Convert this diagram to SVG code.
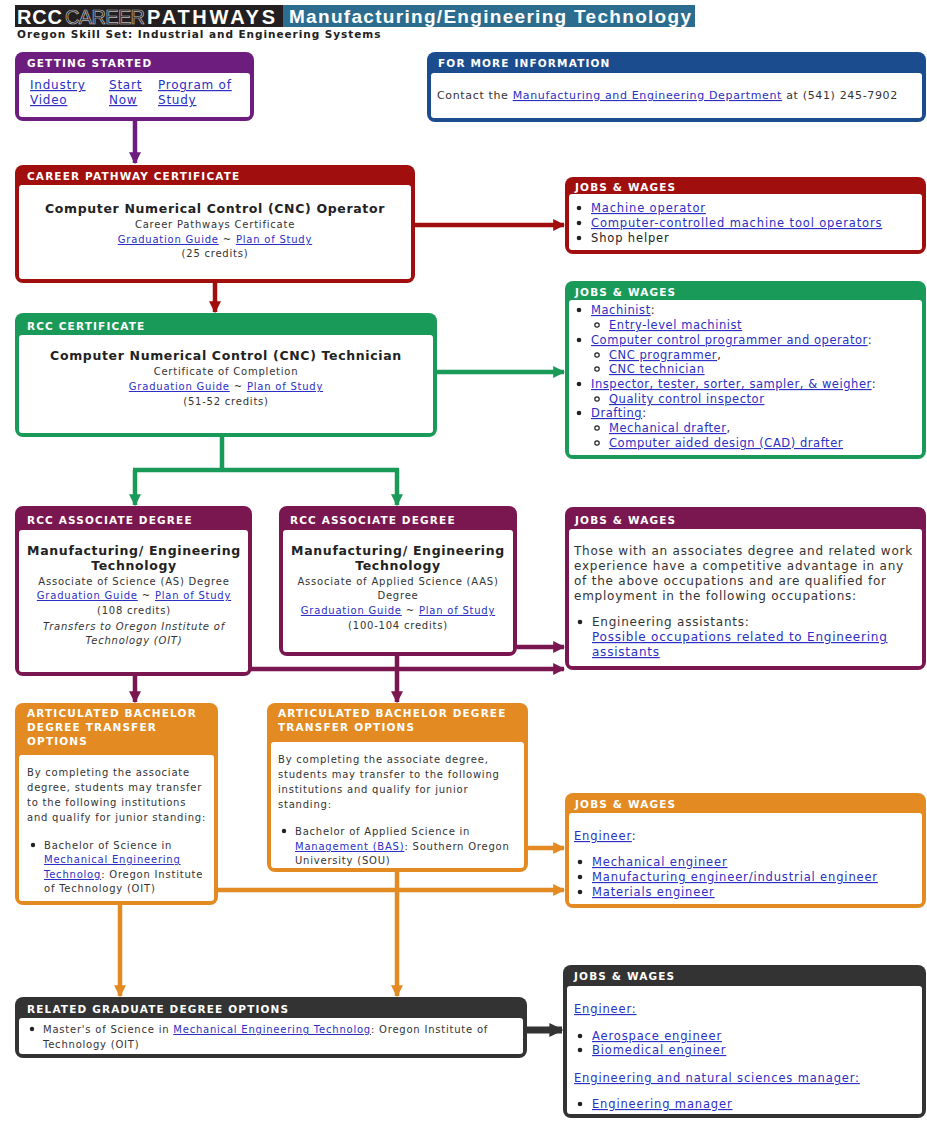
<svg xmlns="http://www.w3.org/2000/svg" width="927" height="1123" viewBox="0 0 927 1123">
<style>
text{font-family:"DejaVu Sans","Noto Sans",sans-serif;fill:#333}
.hd{font-size:10.5px;font-weight:bold;fill:#fff;letter-spacing:1.15px}
.t{font-size:10px;letter-spacing:0.78px}
.m{font-size:11.5px;letter-spacing:0.85px}
.m2{font-size:11.5px;letter-spacing:0.55px}
.p{font-size:12px;letter-spacing:0.77px}
.ti{font-size:12.5px;font-weight:bold;fill:#222;letter-spacing:0.65px}
.c{text-anchor:middle}
.lk{fill:#2b2fc4;text-decoration:underline}
.it{font-style:italic}
.ln{fill:none;stroke-width:4.5}
</style>
<defs>
<marker id="aP" viewBox="0 0 10 10" refX="9" refY="5" markerUnits="userSpaceOnUse" markerWidth="12" markerHeight="12" orient="auto"><path d="M0,0L10,5L0,10z" fill="#6c1d7e"/></marker>
<marker id="aR" viewBox="0 0 10 10" refX="9" refY="5" markerUnits="userSpaceOnUse" markerWidth="12" markerHeight="12" orient="auto"><path d="M0,0L10,5L0,10z" fill="#a10e0e"/></marker>
<marker id="aG" viewBox="0 0 10 10" refX="9" refY="5" markerUnits="userSpaceOnUse" markerWidth="12" markerHeight="12" orient="auto"><path d="M0,0L10,5L0,10z" fill="#1a9a58"/></marker>
<marker id="aM" viewBox="0 0 10 10" refX="9" refY="5" markerUnits="userSpaceOnUse" markerWidth="12" markerHeight="12" orient="auto"><path d="M0,0L10,5L0,10z" fill="#7b1750"/></marker>
<marker id="aO" viewBox="0 0 10 10" refX="9" refY="5" markerUnits="userSpaceOnUse" markerWidth="12" markerHeight="12" orient="auto"><path d="M0,0L10,5L0,10z" fill="#e38b22"/></marker>
<marker id="aD" viewBox="0 0 10 10" refX="9" refY="5" markerUnits="userSpaceOnUse" markerWidth="14" markerHeight="18" orient="auto"><path d="M0,0L10,5L0,10z" fill="#333"/></marker>
</defs>
<rect x="0" y="0" width="927" height="1123" fill="#fff"/>

<g id="title">
<rect x="15" y="5" width="268" height="22" fill="#231f20"/>
<rect x="283" y="5" width="412" height="22" fill="#2c6d8f"/>
<text x="17" y="24" style="font-family:'Liberation Sans',sans-serif;font-size:20px;font-weight:bold;fill:#fff" textLength="45">RCC</text>
<text x="65" y="24" style="font-family:'Liberation Sans',sans-serif;font-size:20px;fill:#231f20;stroke:#bbb;stroke-width:0.7" textLength="80">CAREER</text>
<text x="147" y="24" style="font-family:'Liberation Sans',sans-serif;font-size:20px;font-weight:bold;fill:#fff" textLength="128">PATHWAYS</text>
<text x="289" y="23" style="font-family:'Liberation Sans',sans-serif;font-size:19px;font-weight:bold;fill:#fff" textLength="402">Manufacturing/Engineering Technology</text>
<text x="17" y="38" style="font-size:10.5px;font-weight:bold;fill:#222;letter-spacing:0.95px">Oregon Skill Set: Industrial and Engineering Systems</text>
</g>

<g id="connectors">
<path class="ln" stroke="#6c1d7e" d="M135,121V163" marker-end="url(#aP)"/>
<path class="ln" stroke="#a10e0e" d="M415,225H564" marker-end="url(#aR)"/>
<path class="ln" stroke="#a10e0e" d="M215,283V312" marker-end="url(#aR)"/>
<path class="ln" stroke="#1a9a58" d="M437,372H564" marker-end="url(#aG)"/>
<path class="ln" stroke="#1a9a58" d="M222,437V470M133,470H399"/>
<path class="ln" stroke="#1a9a58" d="M135,470V505" marker-end="url(#aG)"/>
<path class="ln" stroke="#1a9a58" d="M397,470V505" marker-end="url(#aG)"/>
<path class="ln" stroke="#7b1750" d="M517,647H564" marker-end="url(#aM)"/>
<path class="ln" stroke="#7b1750" d="M250,669H564" marker-end="url(#aM)"/>
<path class="ln" stroke="#7b1750" d="M135,676V702" marker-end="url(#aM)"/>
<path class="ln" stroke="#7b1750" d="M397,656V702" marker-end="url(#aM)"/>
<path class="ln" stroke="#e38b22" d="M528,848H564" marker-end="url(#aO)"/>
<path class="ln" stroke="#e38b22" d="M216,890H564" marker-end="url(#aO)"/>
<path class="ln" stroke="#e38b22" d="M120,905V996" marker-end="url(#aO)"/>
<path class="ln" stroke="#e38b22" d="M397,872V996" marker-end="url(#aO)"/>
<path fill="none" stroke="#333" stroke-width="7" d="M527,1030H562" marker-end="url(#aD)"/>
</g>

<g id="getting-started">
<rect x="15" y="52" width="239" height="69" rx="8" fill="#6c1d7e"/>
<rect x="19" y="73" width="231" height="44" rx="3" fill="#fff"/>
<text class="hd" x="27" y="67">GETTING STARTED</text>
<text class="p lk" x="30" y="89">Industry</text><text class="p lk" x="30" y="104">Video</text>
<text class="p lk" x="109" y="89">Start</text><text class="p lk" x="109" y="104">Now</text>
<text class="p lk" x="158" y="89">Program of</text><text class="p lk" x="158" y="104">Study</text>
</g>

<g id="more-info">
<rect x="427" y="52" width="499" height="70" rx="8" fill="#1a4c8e"/>
<rect x="431" y="73" width="491" height="45" rx="3" fill="#fff"/>
<text class="hd" x="438" y="67">FOR MORE INFORMATION</text>
<text x="437" y="99" style="font-size:11px;letter-spacing:0.65px">Contact the <tspan class="lk">Manufacturing and Engineering Department</tspan> at (541) 245-7902</text>
</g>

<g id="career-pathway-cert">
<rect x="15" y="165" width="400" height="118" rx="8" fill="#a10e0e"/>
<rect x="19" y="185" width="392" height="94" rx="3" fill="#fff"/>
<text class="hd" x="27" y="180">CAREER PATHWAY CERTIFICATE</text>
<text class="ti c" x="215" y="213">Computer Numerical Control (CNC) Operator</text>
<text class="t c" x="215" y="228">Career Pathways Certificate</text>
<text class="t c" x="215" y="243"><tspan class="lk">Graduation Guide</tspan> ~ <tspan class="lk">Plan of Study</tspan></text>
<text class="t c" x="215" y="257">(25 credits)</text>
</g>

<g id="jobs1">
<rect x="565" y="177" width="361" height="77" rx="8" fill="#a10e0e"/>
<rect x="569" y="194" width="353" height="56" rx="3" fill="#fff"/>
<text class="hd" x="575" y="191">JOBS &amp; WAGES</text>
<circle cx="579" cy="208" r="2.3" fill="#222"/><text class="m lk" x="591" y="212">Machine operator</text>
<circle cx="579" cy="223" r="2.3" fill="#222"/><text class="m lk" x="591" y="227">Computer-controlled machine tool operators</text>
<circle cx="579" cy="238" r="2.3" fill="#222"/><text class="m" x="591" y="242" style="fill:#222">Shop helper</text>
</g>

<g id="rcc-cert">
<rect x="15" y="313" width="422" height="124" rx="8" fill="#1a9a58"/>
<rect x="19" y="335" width="414" height="98" rx="3" fill="#fff"/>
<text class="hd" x="27" y="330">RCC CERTIFICATE</text>
<text class="ti c" x="226" y="360">Computer Numerical Control (CNC) Technician</text>
<text class="t c" x="226" y="375">Certificate of Completion</text>
<text class="t c" x="226" y="390"><tspan class="lk">Graduation Guide</tspan> ~ <tspan class="lk">Plan of Study</tspan></text>
<text class="t c" x="226" y="405">(51-52 credits)</text>
</g>

<g id="jobs2">
<rect x="565" y="281" width="361" height="178" rx="8" fill="#1a9a58"/>
<rect x="569" y="300" width="353" height="155" rx="3" fill="#fff"/>
<text class="hd" x="575" y="296">JOBS &amp; WAGES</text>
<circle cx="579" cy="310" r="2.3" fill="#222"/><text class="m2" x="591" y="314"><tspan class="lk">Machinist</tspan>:</text>
<circle cx="597" cy="325" r="2.2" fill="none" stroke="#222" stroke-width="1.2"/><text class="m2 lk" x="609" y="329">Entry-level machinist</text>
<circle cx="579" cy="340" r="2.3" fill="#222"/><text class="m2" x="591" y="344"><tspan class="lk">Computer control programmer and operator</tspan>:</text>
<circle cx="597" cy="355" r="2.2" fill="none" stroke="#222" stroke-width="1.2"/><text class="m2" x="609" y="359"><tspan class="lk">CNC programmer</tspan>,</text>
<circle cx="597" cy="369" r="2.2" fill="none" stroke="#222" stroke-width="1.2"/><text class="m2 lk" x="609" y="373">CNC technician</text>
<circle cx="579" cy="384" r="2.3" fill="#222"/><text class="m2" x="591" y="388"><tspan class="lk">Inspector, tester, sorter, sampler, &amp; weigher</tspan>:</text>
<circle cx="597" cy="399" r="2.2" fill="none" stroke="#222" stroke-width="1.2"/><text class="m2 lk" x="609" y="403">Quality control inspector</text>
<circle cx="579" cy="413" r="2.3" fill="#222"/><text class="m2" x="591" y="417"><tspan class="lk">Drafting</tspan>:</text>
<circle cx="597" cy="428" r="2.2" fill="none" stroke="#222" stroke-width="1.2"/><text class="m2" x="609" y="432"><tspan class="lk">Mechanical drafter</tspan>,</text>
<circle cx="597" cy="443" r="2.2" fill="none" stroke="#222" stroke-width="1.2"/><text class="m2 lk" x="609" y="447">Computer aided design (CAD) drafter</text>
</g>

<g id="assoc-as">
<rect x="15" y="506" width="237" height="170" rx="8" fill="#7b1750"/>
<rect x="19" y="530" width="229" height="142" rx="3" fill="#fff"/>
<text class="hd" x="27" y="524">RCC ASSOCIATE DEGREE</text>
<text class="ti c" x="134" y="555">Manufacturing/ Engineering</text>
<text class="ti c" x="134" y="570">Technology</text>
<text class="t c" x="134" y="585">Associate of Science (AS) Degree</text>
<text class="t c" x="134" y="599"><tspan class="lk">Graduation Guide</tspan> ~ <tspan class="lk">Plan of Study</tspan></text>
<text class="t c" x="134" y="614">(108 credits)</text>
<text class="t c it" x="134" y="630">Transfers to Oregon Institute of</text>
<text class="t c it" x="134" y="644">Technology (OIT)</text>
</g>

<g id="assoc-aas">
<rect x="279" y="506" width="238" height="150" rx="8" fill="#7b1750"/>
<rect x="283" y="530" width="230" height="122" rx="3" fill="#fff"/>
<text class="hd" x="290" y="524">RCC ASSOCIATE DEGREE</text>
<text class="ti c" x="398" y="555">Manufacturing/ Engineering</text>
<text class="ti c" x="398" y="570">Technology</text>
<text class="t c" x="398" y="585">Associate of Applied Science (AAS)</text>
<text class="t c" x="398" y="599">Degree</text>
<text class="t c" x="398" y="614"><tspan class="lk">Graduation Guide</tspan> ~ <tspan class="lk">Plan of Study</tspan></text>
<text class="t c" x="398" y="629">(100-104 credits)</text>
</g>

<g id="jobs3">
<rect x="565" y="507" width="361" height="163" rx="8" fill="#7b1750"/>
<rect x="569" y="529" width="353" height="137" rx="3" fill="#fff"/>
<text class="hd" x="575" y="524">JOBS &amp; WAGES</text>
<text class="p" x="574" y="555">Those with an associates degree and related work</text>
<text class="p" x="574" y="570">experience have a competitive advantage in any</text>
<text class="p" x="574" y="585">of the above occupations and are qualified for</text>
<text class="p" x="574" y="600">employment in the following occupations:</text>
<circle cx="580" cy="622" r="2.3" fill="#222"/><text class="p" x="592" y="626">Engineering assistants:</text>
<text class="p lk" x="592" y="641">Possible occupations related to Engineering</text>
<text class="p lk" x="592" y="656">assistants</text>
</g>

<g id="articulated-oit">
<rect x="15" y="703" width="203" height="202" rx="8" fill="#e38b22"/>
<rect x="19" y="755" width="195" height="146" rx="3" fill="#fff"/>
<text class="hd" x="27" y="717">ARTICULATED BACHELOR</text>
<text class="hd" x="27" y="731">DEGREE TRANSFER</text>
<text class="hd" x="27" y="745">OPTIONS</text>
<text class="t" x="27" y="776">By completing the associate</text>
<text class="t" x="27" y="791">degree, students may transfer</text>
<text class="t" x="27" y="806">to the following institutions</text>
<text class="t" x="27" y="821">and qualify for junior standing:</text>
<circle cx="33" cy="845" r="2.2" fill="#222"/><text class="t" x="44" y="849">Bachelor of Science in</text>
<text class="t lk" x="44" y="863">Mechanical Engineering</text>
<text class="t" x="44" y="878"><tspan class="lk">Technolog</tspan>: Oregon Institute</text>
<text class="t" x="44" y="892">of Technology (OIT)</text>
</g>

<g id="articulated-sou">
<rect x="267" y="703" width="261" height="169" rx="8" fill="#e38b22"/>
<rect x="271" y="742" width="253" height="126" rx="3" fill="#fff"/>
<text class="hd" x="278" y="717">ARTICULATED BACHELOR DEGREE</text>
<text class="hd" x="278" y="731">TRANSFER OPTIONS</text>
<text class="t" x="278" y="763">By completing the associate degree,</text>
<text class="t" x="278" y="778">students may transfer to the following</text>
<text class="t" x="278" y="793">institutions and qualify for junior</text>
<text class="t" x="278" y="808">standing:</text>
<circle cx="284" cy="831" r="2.2" fill="#222"/><text class="t" x="295" y="835">Bachelor of Applied Science in</text>
<text class="t" x="295" y="850"><tspan class="lk">Management (BAS)</tspan>: Southern Oregon</text>
<text class="t" x="295" y="864">University (SOU)</text>
</g>

<g id="jobs4">
<rect x="565" y="793" width="361" height="115" rx="8" fill="#e38b22"/>
<rect x="569" y="813" width="353" height="91" rx="3" fill="#fff"/>
<text class="hd" x="575" y="808">JOBS &amp; WAGES</text>
<text class="m" x="574" y="840"><tspan class="lk">Engineer</tspan>:</text>
<circle cx="580" cy="862" r="2.3" fill="#222"/><text class="m lk" x="592" y="866">Mechanical engineer</text>
<circle cx="580" cy="877" r="2.3" fill="#222"/><text class="m lk" x="592" y="881">Manufacturing engineer/industrial engineer</text>
<circle cx="580" cy="892" r="2.3" fill="#222"/><text class="m lk" x="592" y="896">Materials engineer</text>
</g>

<g id="graduate">
<rect x="15" y="997" width="512" height="61" rx="8" fill="#333"/>
<rect x="19" y="1018" width="504" height="36" rx="3" fill="#fff"/>
<text class="hd" x="27" y="1013">RELATED GRADUATE DEGREE OPTIONS</text>
<circle cx="32" cy="1029" r="2.2" fill="#222"/><text class="t" x="43" y="1033">Master's of Science in <tspan class="lk">Mechanical Engineering Technolog</tspan>: Oregon Institute of</text>
<text class="t" x="43" y="1048">Technology (OIT)</text>
</g>

<g id="jobs5">
<rect x="563" y="965" width="363" height="153" rx="8" fill="#333"/>
<rect x="567" y="986" width="355" height="128" rx="3" fill="#fff"/>
<text class="hd" x="574" y="980">JOBS &amp; WAGES</text>
<text class="m lk" x="574" y="1013">Engineer:</text>
<circle cx="580" cy="1036" r="2.3" fill="#222"/><text class="m lk" x="592" y="1040">Aerospace engineer</text>
<circle cx="580" cy="1050" r="2.3" fill="#222"/><text class="m lk" x="592" y="1054">Biomedical engineer</text>
<text class="m lk" x="574" y="1082">Engineering and natural sciences manager:</text>
<circle cx="580" cy="1104" r="2.3" fill="#222"/><text class="m lk" x="592" y="1108">Engineering manager</text>
</g>
</svg>
